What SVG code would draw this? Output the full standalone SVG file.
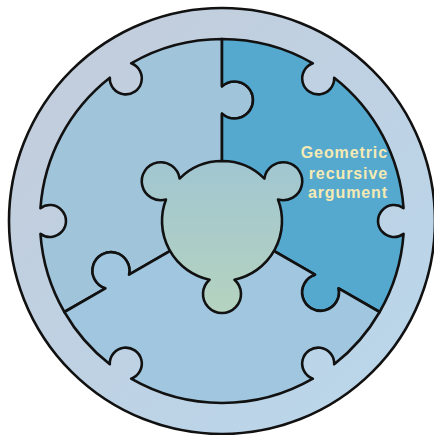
<svg xmlns="http://www.w3.org/2000/svg" width="434" height="435" viewBox="0 0 434 435">
  <defs>
    <linearGradient id="ringGrad" x1="0" y1="0" x2="1" y2="1">
      <stop offset="0" stop-color="#c4ccda"/>
      <stop offset="1" stop-color="#b9d7ec"/>
    </linearGradient>
    <linearGradient id="centerGrad" x1="0" y1="0" x2="0" y2="1">
      <stop offset="0" stop-color="#a1c6d1"/>
      <stop offset="1" stop-color="#b5d3bf"/>
    </linearGradient>
  </defs>
  <style>
    .edge { stroke: #111; stroke-width: 2.6; stroke-linejoin: round; }
    .label { font-family: "Liberation Sans", Arial, sans-serif; font-size: 16px; font-weight: bold; fill: #f5eab3; letter-spacing: 0.9px; text-anchor: end; }
  </style>
  <g id="ring">
    <circle cx="222" cy="221" r="213" fill="url(#ringGrad)" class="edge"/>
  </g>
  <g id="piece-top-left">
    <path class="edge" fill="#a0c4da" d="M222,221 L129.02,274.68 A18.5,18.5 0 1 0 105.40,288.32 L64.38,312 A182,182 0 0 1 40.45,233.85 A16,16 0 1 0 40.45,208.15 A182,182 0 0 1 109.82,77.68 A16,16 0 1 0 131.14,63.30 A182,182 0 0 1 222,39 L222,86.36 A18.5,18.5 0 1 1 222,113.64 Z"/>
  </g>
  <g id="piece-top-right">
    <path class="edge" fill="#55a9cf" d="M222,221 L222,113.64 A18.5,18.5 0 1 0 222,86.36 L222,39 A182,182 0 0 1 312.86,63.30 A16,16 0 1 0 334.18,77.68 A182,182 0 0 1 403.55,208.15 A16,16 0 1 0 403.55,233.85 A182,182 0 0 1 379.62,312 L338.60,288.32 A18.5,18.5 0 1 1 314.98,274.68 Z"/>
  </g>
  <g id="piece-bottom">
    <path class="edge" fill="#a0c7df" d="M222,221 L314.98,274.68 A18.5,18.5 0 1 0 338.60,288.32 L379.62,312 A182,182 0 0 1 334.18,364.32 A16,16 0 1 0 312.86,378.70 A182,182 0 0 1 131.14,378.70 A16,16 0 1 0 109.82,364.32 A182,182 0 0 1 64.38,312 L105.40,288.32 A18.5,18.5 0 1 1 129.02,274.68 Z"/>
  </g>
  <g id="piece-center">
    <path class="edge" fill="url(#centerGrad)" d="M222,161 A60,60 0 0 1 264.41,178.56 A19,19 0 1 1 278.02,199.52 A60,60 0 0 1 234.47,279.69 A19,19 0 1 1 209.53,279.69 A60,60 0 0 1 165.98,199.52 A19,19 0 1 1 179.59,178.56 A60,60 0 0 1 222,161 Z"/>
  </g>
  <g id="label">
    <text class="label" x="388" y="158">Geometric</text>
    <text class="label" x="388" y="179">recursive</text>
    <text class="label" x="388" y="198">argument</text>
  </g>
</svg>
